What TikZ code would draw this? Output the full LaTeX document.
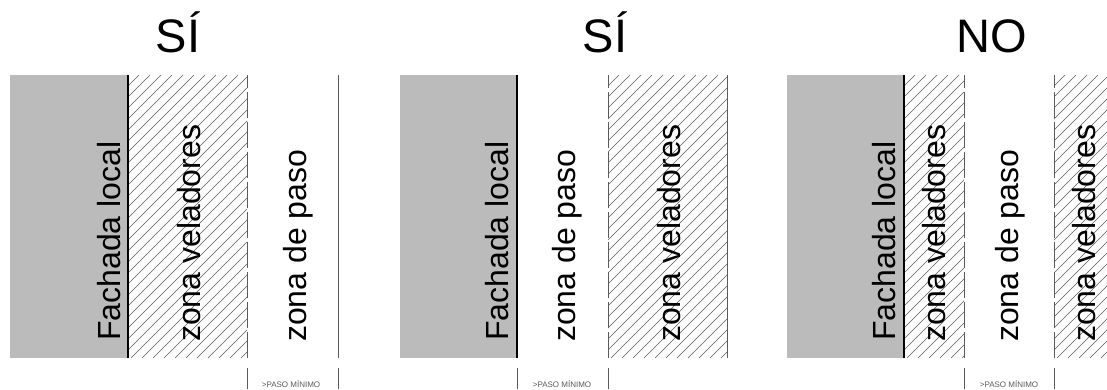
\documentclass[tikz,border=0pt]{standalone}
\usepackage{fontspec}
\setmainfont{Liberation Sans}
\usepackage{tikz}
\usetikzlibrary{positioning}
\usepackage{xcolor}

\definecolor{fachada}{RGB}{187,187,187}
\definecolor{trazo}{RGB}{90,90,90}

\tikzset{
  fachada/.style={fill=fachada,draw=none},
  muro/.style={line width=2.6pt,draw=black},
  limite/.style={line width=0.8pt,draw=trazo,dash pattern=on 26pt off 4pt},
  borde/.style={line width=0.8pt,draw=trazo},
  rayado/.style={line width=0.5pt,draw=trazo},
  marca/.style={line width=0.8pt,draw=trazo},
  rotulo/.style={rotate=90,anchor=base west,inner sep=0pt,font=\fontsize{32}{32}\selectfont},
  titulo/.style={anchor=base,inner sep=0pt,font=\fontsize{47}{47}\selectfont},
  minimo/.style={anchor=base,inner sep=0pt,font=\fontsize{8}{8}\selectfont,text=trazo}
}

\begin{document}
\begin{tikzpicture}[x=1pt,y=1pt]

  \useasboundingbox (0,0) rectangle (1107,389);

  % %hatched zones
  \foreach \a/\b in {128/247, 608/727, 904/964, 1054/1107}{
    \begin{scope}
      \clip (\a,31) rectangle (\b,314);
      \foreach \k in {0,11,...,410}
        \draw[rayado] (\a-283+\k,31) -- ++(283,283);
    \end{scope}
  }

  % %panel 1
  \node[titulo] (Ti1) at (178,336) {SÍ};
  \fill[fachada] (10,31) rectangle (128,314);
  \draw[muro] (128,31) -- (128,314);
  \draw[limite] (247,31) -- (247,314);
  \draw[borde] (338,31) -- (338,314);
  \node[rotulo] (FaLo1) at (120,48) {Fachada local};
  \node[rotulo] (ZoVe1) at (200,47) {zona veladores};
  \node[rotulo] (ZoPa1) at (306,47) {zona de paso};
  \draw[marca] (247,0) -- (247,21);
  \draw[marca] (338,0) -- (338,21);
  \node[minimo] (PaMi1) at (291,2) {>PASO MÍNIMO};

  % %panel 2
  \node[titulo] (Ti2) at (605,336) {SÍ};
  \fill[fachada] (400,31) rectangle (517,314);
  \draw[muro] (517,31) -- (517,314);
  \draw[limite] (608,31) -- (608,314);
  \draw[borde] (727,31) -- (727,314);
  \node[rotulo] (FaLo2) at (508,48) {Fachada local};
  \node[rotulo] (ZoPa2) at (575,47) {zona de paso};
  \node[rotulo] (ZoVe2) at (680,47) {zona veladores};
  \draw[marca] (517,0) -- (517,21);
  \draw[marca] (608,0) -- (608,21);
  \node[minimo] (PaMi2) at (562,2) {>PASO MÍNIMO};

  % %panel 3
  \node[titulo] (Ti3) at (992,336) {NO};
  \fill[fachada] (787,31) rectangle (904,314);
  \draw[muro] (904,31) -- (904,314);
  \draw[limite] (964,31) -- (964,314);
  \draw[limite] (1054,31) -- (1054,314);
  \node[rotulo] (FaLo3) at (895,48) {Fachada local};
  \node[rotulo] (ZoVe3) at (945,47) {zona veladores};
  \node[rotulo] (ZoPa3) at (1018,47) {zona de paso};
  \node[rotulo] (ZoVe4) at (1095,47) {zona veladores};
  \draw[marca] (964,0) -- (964,21);
  \draw[marca] (1054,0) -- (1054,21);
  \node[minimo] (PaMi3) at (1009,2) {>PASO MÍNIMO};

\end{tikzpicture}
\end{document}
